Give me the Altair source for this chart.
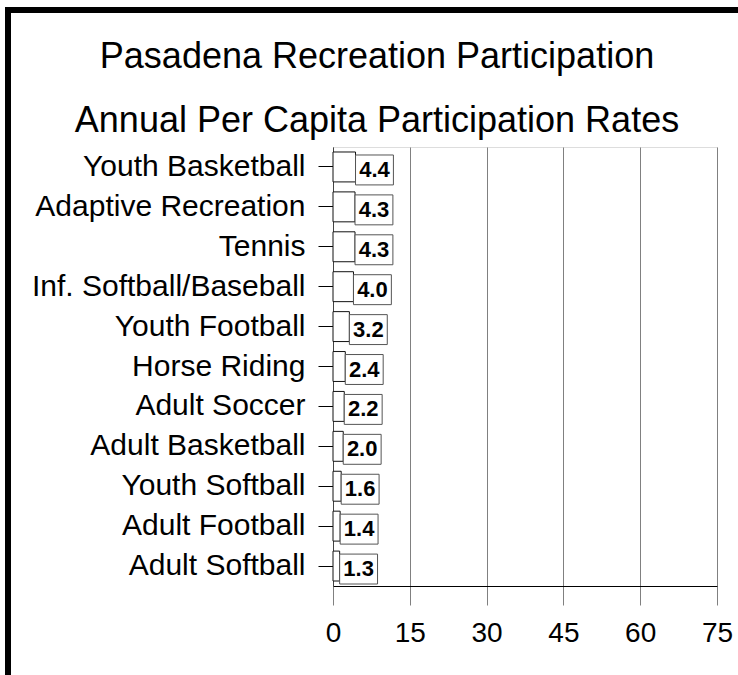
import altair as alt
import pandas as pd

# Annual per-capita participation, top to bottom
activities = [
    "Youth Basketball", "Adaptive Recreation", "Tennis", "Inf. Softball/Baseball",
    "Youth Football", "Horse Riding", "Adult Soccer", "Adult Basketball",
    "Youth Softball", "Adult Football", "Adult Softball",
]
rates = [4.4, 4.3, 4.3, 4.0, 3.2, 2.4, 2.2, 2.0, 1.6, 1.4, 1.3]
x_ticks = [0, 15, 30, 45, 60, 75]
title_lines = ["Pasadena Recreation Participation", "Annual Per Capita Participation Rates"]

FONT = "Liberation Sans"
BOX_W = 7.4  # value-label box width, in rate units

df = pd.DataFrame({"activity": activities, "rate": rates})

base = alt.Chart(df).transform_calculate(
    box_end=f"datum.rate + {BOX_W}",
    box_mid=f"datum.rate + {BOX_W / 2}",
)

y_enc = alt.Y(
    "activity:N",
    sort=activities,
    scale=alt.Scale(paddingInner=0.25, paddingOuter=0.125),
    axis=alt.Axis(
        title=None, labelFont=FONT, labelFontSize=30, labelColor="black",
        labelLimit=0, tickSize=15, tickColor="black", labelPadding=13,
        domainColor="#444", grid=False,
    ),
)

x_enc = alt.X(
    "rate:Q",
    scale=alt.Scale(domain=[0, 75], nice=False, zero=True),
    axis=alt.Axis(
        values=x_ticks, title=None, grid=True, gridColor="#808080",
        tickColor="#808080", tickSize=19, domainColor="black",
        labelFont=FONT, labelFontSize=28, labelColor="black", labelPadding=14,
        labelFlush=False,
    ),
)

bars = base.mark_bar(fill="white", stroke="#111", strokeWidth=1).encode(x=x_enc, y=y_enc)

boxes = base.mark_bar(fill="white", stroke="#555", strokeWidth=1, yOffset=3).encode(
    x="rate:Q", x2="box_end:Q", y=alt.Y("activity:N", sort=activities)
)

labels = base.mark_text(
    font=FONT, fontSize=22, fontWeight="bold", color="black", yOffset=3
).encode(
    x="box_mid:Q",
    y=alt.Y("activity:N", sort=activities),
    text=alt.Text("rate:Q", format=".1f"),
)


def heading_line(text, ypos):
    """One centred line of the two-line heading above the plot."""
    return alt.Chart(alt.Data(values=[{"line": text}])).mark_text(
        font=FONT, fontSize=36, color="black", align="center",
        baseline="middle", clip=False,
    ).encode(x=alt.value(44), y=alt.value(ypos), text="line:N")


heading1 = heading_line(title_lines[0], -90)
heading2 = heading_line(title_lines[1], -26)

# heavy black frame along the top and left edges
frame_src = alt.Data(values=[{}])
frame_top = alt.Chart(frame_src).mark_rule(color="black", strokeWidth=6, clip=False).encode(
    x=alt.value(-328), x2=alt.value(405), y=alt.value(-137)
)
frame_left = alt.Chart(frame_src).mark_rule(color="black", strokeWidth=6, clip=False).encode(
    x=alt.value(-325), y=alt.value(-140), y2=alt.value(528)
)

chart = alt.layer(bars, boxes, labels, heading1, heading2, frame_top, frame_left).properties(
    width=384,
    height=439,
    autosize=alt.AutoSizeParams(type="none"),
    padding={"left": 333, "top": 147, "right": 21, "bottom": 89},
).configure_view(stroke=None).configure(background="white")

chart.save("out.html", embed_options={"renderer": "svg", "actions": False})
